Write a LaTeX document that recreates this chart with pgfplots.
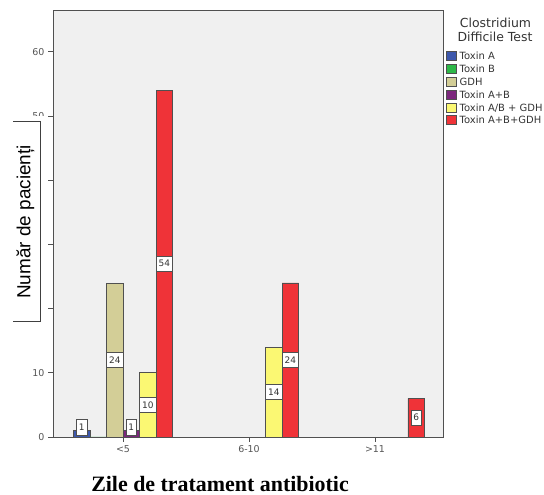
\documentclass[border=0pt]{standalone}
\usepackage{fontspec}
\setmainfont{DejaVu Sans}
\newfontfamily\titlefont{Liberation Serif}
\newfontfamily\boxfont{Liberation Sans}
\usepackage{pgfplots}
\pgfplotsset{compat=1.18}

\definecolor{cA}{HTML}{3E58AC}
\definecolor{cB}{HTML}{2EB848}
\definecolor{cGDH}{HTML}{D3CE97}
\definecolor{cAB}{HTML}{7C287D}
\definecolor{cABG}{HTML}{FBF873}
\definecolor{cAll}{HTML}{EF3338}
\definecolor{plotbg}{HTML}{F0F0F0}
\definecolor{edge}{HTML}{505050}
\definecolor{ticktext}{HTML}{555555}
\definecolor{labeltext}{HTML}{333333}

\pgfplotsset{
  bar legend/.style={legend image code/.code={
      \draw[##1, draw=edge, line width=0.7bp] (0bp,-4.5bp) rectangle (9.5bp,4.5bp);}},
  lbl/.style={nodes near coords,
    visualization depends on={y \as \rawy},
    every node near coord/.append style={anchor=center, draw=edge, fill=white,
      text=labeltext, font=\fontsize{9}{10}\selectfont, inner xsep=2.5bp,
      inner ysep=0pt, minimum height=15.5bp, line width=0.7bp,
      shift={(axis direction cs:0,{max(\rawy/2,1.5)-\rawy})}}},
  bars/.style={draw=edge, line width=0.7bp, bar legend, lbl},
}

\begin{document}
\begin{tikzpicture}[x=1bp,y=1bp]
\useasboundingbox (0,0) rectangle (544,495);
\begin{axis}[
  at={(53bp,58bp)}, anchor=south west,
  scale only axis, width=390bp, height=427bp,
  xmin=-0.556, xmax=2.54, ymin=0, ymax=66.5,
  ybar=0pt, bar width=16.5bp,
  axis background/.style={fill=plotbg},
  axis line style={draw=edge, line width=0.8bp},
  xtick={0,1,2}, xticklabels={<5,6-10,>11},
  ytick={0,10,...,60},
  xtick pos=left, ytick pos=left,
  tick align=outside, major tick length=5bp,
  tick style={draw=edge, line width=0.8bp},
  /pgf/number format/assume math mode=true,
  tick label style={font=\fontsize{9.5}{11}\selectfont, text=ticktext},
  legend style={at={(1.0077,0.9035)}, anchor=north west, draw=none, fill=none,
    inner sep=0pt, outer sep=0pt, font=\fontsize{10}{12}\selectfont,
    row sep=3.15bp, column sep=3.5bp, cells={anchor=west},
    nodes={inner sep=0pt, text height=7.3bp, text depth=0bp, text=labeltext}},
]
\addplot[bars, fill=cA] coordinates {(0,1)};
\addlegendentry{Toxin A}
\addplot[fill=cB, draw=none, bar legend] coordinates {(0,0)};
\addlegendentry{Toxin B}
\addplot[bars, fill=cGDH] coordinates {(0,24)};
\addlegendentry{GDH}
\addplot[bars, fill=cAB] coordinates {(0,1)};
\addlegendentry{Toxin A+B}
\addplot[bars, fill=cABG] coordinates {(0,10) (1,14)};
\addlegendentry{Toxin A/B + GDH}
\addplot[bars, fill=cAll] coordinates {(0,54) (1,24) (2,6)};
\addlegendentry{Toxin A+B+GDH}
\end{axis}

% legend heading
\node[anchor=base, font=\fontsize{12.5}{14}\selectfont, text=labeltext] at (495.5,467) {Clostridium};
\node[anchor=base, font=\fontsize{12.5}{14}\selectfont, text=labeltext] at (495,453) {Difficile Test};

% y axis title in a bracket-shaped frame, open on the left
\fill[white] (0,165) rectangle (46.5,379);
\draw[draw=black!75, line width=1bp] (13,373) -- (40,373) -- (40,173) -- (13,173);
\node[rotate=90, inner sep=0pt, font=\boxfont\fontsize{19}{21}\selectfont] at (25.5,273) {Număr de pacienți};

% x axis title
\node[anchor=base, inner sep=0pt, font=\titlefont\bfseries\fontsize{22}{24}\selectfont] at (220,3.5) {Zile de tratament antibiotic};
\end{tikzpicture}
\end{document}
